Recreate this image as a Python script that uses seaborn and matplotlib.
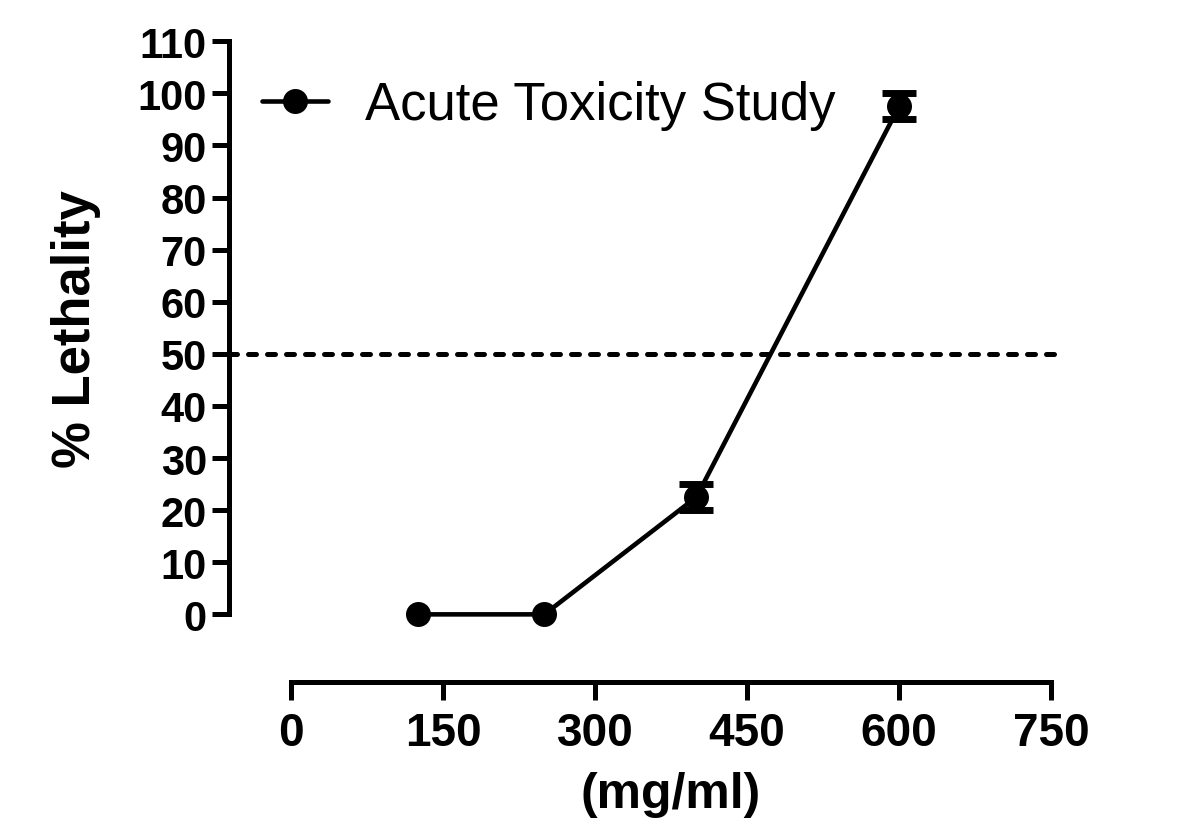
import numpy as np
import pandas as pd
import seaborn as sns
import matplotlib.pyplot as plt
from matplotlib.lines import Line2D

# Data
dose = [125, 250, 400, 600]          # mg/ml
lethality = [0, 0, 22.5, 97.5]       # % lethality
err = [0, 0, 2.5, 2.5]               # error bar half-length
y_ticks = list(range(0, 111, 10))
x_ticks = [0, 150, 300, 450, 600, 750]
series_name = "Acute Toxicity Study"

df = pd.DataFrame({"Dose": dose, "Lethality": lethality, "Err": err})

sns.set_style("ticks")
plt.rcParams['font.family'] = ['Liberation Sans', 'DejaVu Sans']
plt.rcParams['text.color'] = 'black'
plt.rcParams['axes.labelcolor'] = 'black'
plt.rcParams['xtick.color'] = 'black'
plt.rcParams['ytick.color'] = 'black'
plt.rcParams['axes.edgecolor'] = 'black'

fig = plt.figure(figsize=(12, 8.29), dpi=100)
ax = fig.add_axes([0.191, 0.176, 0.695, 0.773])

# 50% reference line
ax.axhline(50, color="black", lw=3.6, ls=(0, (1.6, 2.2)),
           dash_capstyle='round', zorder=1)

# main curve
sns.lineplot(data=df, x="Dose", y="Lethality", ax=ax, color="black",
             lw=3.3, marker="o", markersize=18, markeredgewidth=0, zorder=3)

# error bars (only where there is spread)
eb = df[df["Err"] > 0]
ax.errorbar(eb["Dose"], eb["Lethality"], yerr=eb["Err"], fmt="none",
            ecolor="black", elinewidth=3.3, capsize=12, capthick=5, zorder=4)

xlim = (-61, 762)
ylim = (-13, 110)
ax.set_xlim(*xlim)
ax.set_ylim(*ylim)
ax.set_xticks(x_ticks)
ax.set_yticks(y_ticks)

sns.despine(ax=ax)
ax.spines['left'].set_bounds(0, 110)
ax.spines['bottom'].set_bounds(0, 750)
for s in ['left', 'bottom']:
    ax.spines[s].set_linewidth(3.6)

ax.tick_params(axis='y', length=12, width=3.6, pad=4, labelsize=30)
ax.tick_params(axis='x', length=13, width=3.6, pad=8, labelsize=33)
for lab in ax.get_xticklabels() + ax.get_yticklabels():
    lab.set_fontweight('bold')

ax.set_xlabel("(mg/ml)", fontsize=36, fontweight='bold', labelpad=11)
ax.set_ylabel("% Lethality", fontsize=38, fontweight='bold', labelpad=26)
# centre the axis titles on the spans of the spines
ax.xaxis.label.set_x((375 - xlim[0]) / (xlim[1] - xlim[0]))
ax.yaxis.label.set_y((55 - ylim[0]) / (ylim[1] - ylim[0]))

handle = Line2D([], [], color="black", lw=3.3, marker="o", markersize=18,
                markeredgewidth=0)
ax.legend([handle], [series_name], loc="center left", frameon=False,
          bbox_to_anchor=(262 / 1200, 1 - 106 / 829),
          bbox_transform=fig.transFigure, fontsize=38, borderpad=0,
          borderaxespad=0, handlelength=1.25, handletextpad=0.7)

plt.savefig("out.png", dpi=100)
